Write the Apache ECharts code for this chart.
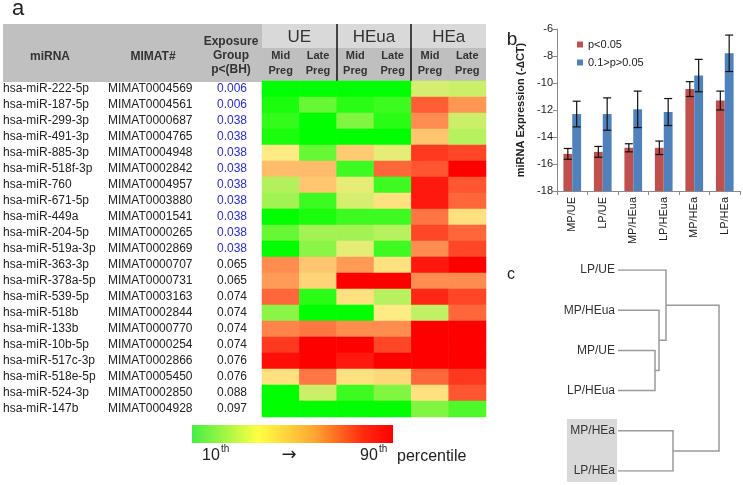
<!DOCTYPE html>
<html><head><meta charset="utf-8">
<script src="https://cdn.jsdelivr.net/npm/echarts@6/dist/echarts.min.js"></script>
<style>html,body{margin:0;padding:0;background:#fff}#c{width:743px;height:485px}</style>
</head><body><div id="c"></div>
<script>
// ---------- panel a: table + heatmap ----------
const mirnas = ['hsa-miR-222-5p','hsa-miR-187-5p','hsa-miR-299-3p','hsa-miR-491-3p','hsa-miR-885-3p','hsa-miR-518f-3p','hsa-miR-760','hsa-miR-671-5p','hsa-miR-449a','hsa-miR-204-5p','hsa-miR-519a-3p','hsa-miR-363-3p','hsa-miR-378a-5p','hsa-miR-539-5p','hsa-miR-518b','hsa-miR-133b','hsa-miR-10b-5p','hsa-miR-517c-3p','hsa-miR-518e-5p','hsa-miR-524-3p','hsa-miR-147b'];
const mimats = ['MIMAT0004569','MIMAT0004561','MIMAT0000687','MIMAT0004765','MIMAT0004948','MIMAT0002842','MIMAT0004957','MIMAT0003880','MIMAT0001541','MIMAT0000265','MIMAT0002869','MIMAT0000707','MIMAT0000731','MIMAT0003163','MIMAT0002844','MIMAT0000770','MIMAT0000254','MIMAT0002866','MIMAT0005450','MIMAT0002850','MIMAT0004928'];
const pvals = ['0.006','0.006','0.038','0.038','0.038','0.038','0.038','0.038','0.038','0.038','0.038','0.065','0.065','0.074','0.074','0.074','0.074','0.076','0.076','0.088','0.097'];
const columns = ['Mid\nPreg','Late\nPreg','Mid\nPreg','Late\nPreg','Mid\nPreg','Late\nPreg'];
const groups = ['UE','HEua','HEa'];
// percentile-like colour values (0 = 10th, 100 = 90th)
const ueMid    = [0,5,10,5,50,60,35,32,0,20,0,70,67,78,27,72,88,97,52,0,0];
const ueLate   = [0,20,0,0,20,60,58,12,5,32,27,58,55,8,0,75,100,100,75,40,0];
const heuaMid  = [0,8,25,0,57,12,45,42,12,32,45,67,100,52,0,70,100,95,52,12,0];
const heuaLate = [0,12,8,0,45,78,12,52,12,36,12,52,100,36,50,70,85,100,54,25,0];
const heaMid   = [42,80,70,58,88,82,95,95,75,85,70,95,70,92,38,100,100,100,78,52,25];
const heaLate  = [40,68,40,36,85,100,82,78,52,78,85,100,70,85,78,100,100,100,88,82,15];

// ---------- panel b: bar chart ----------
const barCats = ['MP/UE','LP/UE','MP/HEua','LP/HEua','MP/HEa','LP/HEa'];
const sigMean = [-15.25,-15.1,-14.8,-14.8,-10.45,-11.3];
const sigErr  = [0.4,0.4,0.3,0.5,0.55,0.7];
const trendMean = [-12.3,-12.3,-11.95,-12.15,-9.45,-7.8];
const trendErr  = [0.95,1.2,1.35,1.0,1.2,1.35];
const yTicks = [-18,-16,-14,-12,-10,-8,-6];

// ---------- panel c: dendrogram ----------
const leaves = ['LP/UE','MP/HEua','MP/UE','LP/HEua','MP/HEa','LP/HEa'];
// [childA, childB, height]; node ids: leaves 0..5, merges 6..
const merges = [[2,3,0.37],[1,6,0.41],[0,7,0.48],[4,5,0.55],[8,9,1.01]];

// ---------- build ----------
const heatCols = [ueMid, ueLate, heuaMid, heuaLate, heaMid, heaLate];
const heatData = [];
heatCols.forEach((col, c) => col.forEach((v, r) => heatData.push([c, r, v])));

const nodeY = leaves.map((_, i) => i), nodeH = leaves.map(() => 0);
const links = [];
merges.forEach(([a, b, h]) => {
  links.push({coords: [[nodeH[a], nodeY[a]], [h, nodeY[a]], [h, nodeY[b]], [nodeH[b], nodeY[b]]]});
  nodeY.push((nodeY[a] + nodeY[b]) / 2); nodeH.push(h);
});

const yMin = yTicks[0], yMax = yTicks[yTicks.length - 1];
function barRender(side, color) {
  return function (params, api) {
    const i = api.value(0), v = api.value(1), e = api.value(2);
    const top = api.coord([i, v]), base = api.coord([i, yMin]);
    const bw = api.size([1, 0])[0] * 0.29;
    const x0 = side < 0 ? top[0] - bw : top[0];
    const cx = x0 + bw / 2;
    const hi = api.coord([i, v + e])[1], lo = api.coord([i, v - e])[1];
    const ls = {stroke: '#111', lineWidth: 1.2};
    return {type: 'group', children: [
      {type: 'rect', shape: {x: x0, y: top[1], width: bw, height: base[1] - top[1]}, style: {fill: color}},
      {type: 'line', shape: {x1: cx, y1: hi, x2: cx, y2: lo}, style: ls},
      {type: 'line', shape: {x1: cx - 4, y1: hi, x2: cx + 4, y2: hi}, style: ls},
      {type: 'line', shape: {x1: cx - 4, y1: lo, x2: cx + 4, y2: lo}, style: ls}
    ]};
  };
}

const FONT = 'Liberation Sans, Arial, sans-serif';
const TXT = '#222';
const noAxisDeco = {axisLine: {show: false}, axisTick: {show: false}, splitLine: {show: false}};

const chart = echarts.init(document.getElementById('c'), null, {renderer: 'canvas'});
chart.setOption({
  animation: false,
  textStyle: {fontFamily: FONT},
  grid: [
    {left: 262, top: 81, width: 224, height: 336},
    {left: 557, top: 29, width: 183, height: 162},
    {left: 618, top: 270, width: 101, height: 201}
  ],
  xAxis: [
    Object.assign({type: 'category', gridIndex: 0, data: columns, position: 'top',
      axisLabel: {interval: 0, margin: 3, fontSize: 11, fontWeight: 'bold', lineHeight: 15, color: '#333'}}, noAxisDeco),
    Object.assign({type: 'category', gridIndex: 0, data: groups, position: 'top', offset: 33,
      axisLabel: {interval: 0, margin: 2, fontSize: 17, color: '#333'}}, noAxisDeco),
    {type: 'category', gridIndex: 1, data: barCats,
      axisLine: {lineStyle: {color: '#8a8a8a'}}, axisTick: {show: true, length: 4, lineStyle: {color: '#8a8a8a'}},
      axisLabel: {interval: 0, rotate: 90, margin: 6, fontSize: 11, color: TXT}},
    Object.assign({type: 'value', gridIndex: 2, min: 0, max: 1.01, show: false}, noAxisDeco)
  ],
  yAxis: [
    Object.assign({type: 'category', gridIndex: 0, data: mirnas, inverse: true, position: 'left',
      axisLabel: {interval: 0, align: 'left', margin: 259, fontSize: 12, color: TXT}}, noAxisDeco),
    Object.assign({type: 'category', gridIndex: 0, data: mirnas, inverse: true, position: 'left', offset: 0,
      axisLabel: {interval: 0, align: 'left', margin: 154, fontSize: 12, color: TXT,
        formatter: (v, i) => mimats[i]}}, noAxisDeco),
    Object.assign({type: 'category', gridIndex: 0, data: mirnas, inverse: true, position: 'left', offset: 0,
      axisLabel: {interval: 0, align: 'left', margin: 45, fontSize: 12,
        formatter: (v, i) => pvals[i],
        color: (v, i) => (parseFloat(pvals[mirnas.indexOf(v)]) < 0.05 ? '#2a2ad2' : TXT)}}, noAxisDeco),
    {type: 'value', gridIndex: 1, min: yMin, max: yMax, interval: 2, position: 'left',
      name: 'miRNA Expression (-\u2206CT)', nameLocation: 'middle', nameGap: 31,
      nameTextStyle: {fontSize: 11, fontWeight: 'bold', color: TXT},
      axisLine: {show: true, lineStyle: {color: '#8a8a8a'}},
      axisTick: {show: true, length: 4, lineStyle: {color: '#8a8a8a'}},
      splitLine: {show: false},
      axisLabel: {fontSize: 11, margin: 4, color: TXT}},
    Object.assign({type: 'value', gridIndex: 2, min: 0, max: leaves.length - 1, interval: 1, inverse: true,
      axisLabel: {margin: 3, fontSize: 12, color: '#333', showMinLabel: true, showMaxLabel: true,
        formatter: v => leaves[v] || ''}}, noAxisDeco)
  ],
  visualMap: {show: false, type: 'continuous', seriesIndex: 0, min: 0, max: 100,
    inRange: {color: ['#00ff00', '#ffeb84', '#ff0000']}},
  legend: {left: 572, top: 34, orient: 'vertical', itemWidth: 6, itemHeight: 6, itemGap: 7,
    icon: 'rect', textStyle: {fontSize: 11, color: TXT}, data: ['p<0.05', '0.1>p>0.05']},
  series: [
    {type: 'heatmap', xAxisIndex: 0, yAxisIndex: 0, data: heatData, itemStyle: {borderWidth: 0}},
    {type: 'custom', name: 'p<0.05', xAxisIndex: 2, yAxisIndex: 3, itemStyle: {color: '#c0504d'},
      renderItem: barRender(-1, '#c0504d'), data: sigMean.map((v, i) => [i, v, sigErr[i]]), z: 3},
    {type: 'custom', name: '0.1>p>0.05', xAxisIndex: 2, yAxisIndex: 3, itemStyle: {color: '#4f81bd'},
      renderItem: barRender(1, '#4f81bd'), data: trendMean.map((v, i) => [i, v, trendErr[i]]), z: 3},
    {type: 'lines', coordinateSystem: 'cartesian2d', xAxisIndex: 3, yAxisIndex: 4, polyline: true,
      silent: true, lineStyle: {color: '#9a9a9a', width: 1.5, opacity: 1}, data: links}
  ],
  graphic: [
    {type: 'rect', z: -1, shape: {x: 3, y: 24, width: 259, height: 58}, style: {fill: '#c0c0c0'}},
    {type: 'rect', z: -1, shape: {x: 262, y: 24, width: 224, height: 24}, style: {fill: '#d9d9d9'}},
    {type: 'rect', z: -1, shape: {x: 262, y: 48, width: 224, height: 33}, style: {fill: '#bfbfbf'}},
    {type: 'line', shape: {x1: 337, y1: 24, x2: 337, y2: 82}, style: {stroke: '#111', lineWidth: 1.5}},
    {type: 'line', shape: {x1: 411, y1: 24, x2: 411, y2: 82}, style: {stroke: '#111', lineWidth: 1.5}},
    {type: 'text', x: 50, y: 57, style: {text: 'miRNA', font: 'bold 12px ' + FONT, fill: '#333', textAlign: 'center', textVerticalAlign: 'middle'}},
    {type: 'text', x: 153, y: 57, style: {text: 'MIMAT#', font: 'bold 12px ' + FONT, fill: '#333', textAlign: 'center', textVerticalAlign: 'middle'}},
    {type: 'text', x: 231, y: 42, style: {text: 'Exposure', font: 'bold 12px ' + FONT, fill: '#333', textAlign: 'center', textVerticalAlign: 'middle'}},
    {type: 'text', x: 231, y: 56, style: {text: 'Group', font: 'bold 12px ' + FONT, fill: '#333', textAlign: 'center', textVerticalAlign: 'middle'}},
    {type: 'text', x: 231, y: 70, style: {text: 'p<(BH)', font: 'bold 12px ' + FONT, fill: '#333', textAlign: 'center', textVerticalAlign: 'middle'}},
    {type: 'text', x: 18, y: 9, style: {text: 'a', font: '22px ' + FONT, fill: '#222', textAlign: 'center', textVerticalAlign: 'middle'}},
    {type: 'text', x: 512, y: 40, style: {text: 'b', font: '19px ' + FONT, fill: '#222', textAlign: 'center', textVerticalAlign: 'middle'}},
    {type: 'text', x: 511, y: 275, style: {text: 'c', font: '16px ' + FONT, fill: '#222', textAlign: 'center', textVerticalAlign: 'middle'}},
    {type: 'rect', z: -1, shape: {x: 567, y: 419, width: 50, height: 63}, style: {fill: '#d9d9d9'}},
    {type: 'rect', shape: {x: 192, y: 425, width: 201, height: 18},
      style: {fill: new echarts.graphic.LinearGradient(0, 0, 1, 0, [
        {offset: 0, color: '#44ee44'}, {offset: 0.33, color: '#ffff44'},
        {offset: 0.6, color: '#ffaa33'}, {offset: 0.85, color: '#ff2a10'}, {offset: 1, color: '#ff0000'}])}},
    {type: 'text', x: 202, y: 456, style: {text: '10', font: '16px ' + FONT, fill: '#222', textVerticalAlign: 'middle'}},
    {type: 'text', x: 221, y: 449, style: {text: 'th', font: '10px ' + FONT, fill: '#222', textVerticalAlign: 'middle'}},
    {type: 'text', x: 289, y: 455, style: {text: '\u2192', font: '18px DejaVu Sans, sans-serif', fill: '#222', textAlign: 'center', textVerticalAlign: 'middle'}},
    {type: 'text', x: 360, y: 456, style: {text: '90', font: '16px ' + FONT, fill: '#222', textVerticalAlign: 'middle'}},
    {type: 'text', x: 379, y: 449, style: {text: 'th', font: '10px ' + FONT, fill: '#222', textVerticalAlign: 'middle'}},
    {type: 'text', x: 397, y: 457, style: {text: 'percentile', font: '16px ' + FONT, fill: '#222', textVerticalAlign: 'middle'}}
  ]
});
</script></body></html>
